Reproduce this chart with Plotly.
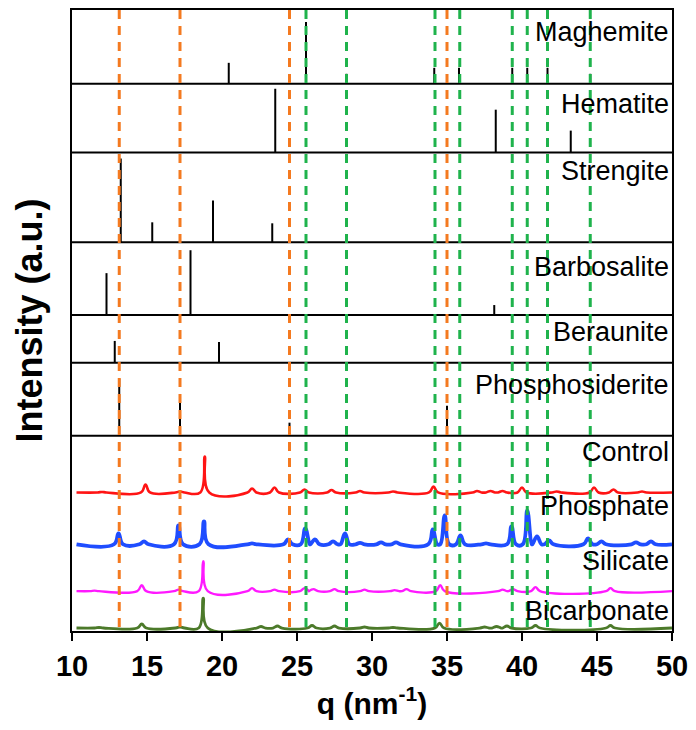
import plotly.graph_objects as go

# ---------------- data ----------------
# reference lines (q in nm^-1)
orange_q = [13.15, 17.2, 24.5, 35.0]
green_q = [25.6, 28.3, 34.2, 35.85, 39.35, 40.35, 41.7, 44.55]

# reference stick patterns: positions and relative heights
maghemite_q = [20.45, 25.6, 28.3, 34.15, 35.8, 39.35, 40.35, 41.7, 44.55]
maghemite_h = [21, 62, 10, 16, 16, 16, 16, 16, 10]
hematite_q = [23.55, 38.25, 43.25]
hematite_h = [64, 43, 22]
strengite_q = [13.25, 15.35, 19.4, 23.35]
strengite_h = [84, 20, 42, 19]
barbosalite_q = [12.3, 17.9, 38.15]
barbosalite_h = [42, 65, 10]
beraunite_q = [12.85, 19.8]
beraunite_h = [22, 21]
phosphosiderite_q = [13.15, 17.2, 24.5, 35.0]
phosphosiderite_h = [57, 38, 13, 30]

# measured patterns: peak positions and heights
control_q = [12.0, 14.9, 17.2, 18.85, 22.0, 23.5, 25.5, 27.3, 29.2, 31.4, 34.1,
             37.0, 37.9, 38.7, 40.0, 42.3, 44.8, 46.1, 48.0]
control_h = [0.5, 8, 1, 36, 4, 5, 3, 2.5, 1.5, 1, 6, 1.5, 1.5, 1.5, 5, 1, 5, 3, 1]
phosphate_q = [13.1, 14.8, 17.1, 18.8, 22.0, 24.4, 25.55, 26.2, 27.4, 28.2, 29.2,
               30.6, 31.6, 34.05, 34.85, 35.9, 37.6, 39.3, 40.35, 41.0, 41.8,
               44.4, 45.3, 47.6, 48.6]
phosphate_h = [11, 3, 19, 23, 1, 5, 16, 5, 3, 11, 1.5, 2, 2, 15, 29, 9, 1, 18, 34,
               8, 4, 6, 3, 2, 3]
silicate_q = [11.5, 14.65, 17.1, 18.75, 22.0, 23.5, 25.5, 26.1, 27.5, 29.5, 31.5,
              32.3, 34.55, 38.7, 39.4, 40.9, 45.9]
silicate_h = [0.5, 6, 1.5, 30, 3, 1.5, 3, 2, 2, 1.5, 1, 2, 6, 1.5, 2, 4, 3]
bicarb_q = [11.8, 14.65, 17.2, 18.75, 22.6, 23.7, 26.0, 27.5, 29.5, 31.4, 34.5,
            37.5, 38.3, 39.0, 40.9, 45.9]
bicarb_h = [0.5, 4, 1, 30, 1.5, 2, 2.5, 2, 1, 0.5, 5, 1, 1.5, 2, 2.5, 2.5]

x_ticks = [10, 15, 20, 25, 30, 35, 40, 45, 50]

# ---------------- layout (positions / styles) ----------------
refs = [
    ("Maghemite", maghemite_q, maghemite_h, 549, 601),
    ("Hematite", hematite_q, hematite_h, 480, 529),
    ("Strengite", strengite_q, strengite_h, 390, 461),
    ("Barbosalite", barbosalite_q, barbosalite_h, 317, 365),
    ("Beraunite", beraunite_q, beraunite_h, 269, 300),
    ("Phosphosiderite", phosphosiderite_q, phosphosiderite_h, 196, 247),
]
samples = [
    ("Control", control_q, control_h, 139, 180, "#ff1414", 2.6),
    ("Phosphate", phosphate_q, phosphate_h, 87, 125, "#1f4dff", 3.8),
    ("Silicate", silicate_q, silicate_h, 40, 70, "#ff19ff", 2.4),
    ("Bicarbonate", bicarb_q, bicarb_h, 3, 20, "#4c7a2a", 2.8),
]
PEAK_W = 0.3
Y_TOP = 623

fig = go.Figure()
shapes = []
annotations = []

label_font = dict(family="Liberation Sans, Arial, sans-serif", size=27, color="black")

for name, qs, hs, base, ly in refs:
    xs, ys = [], []
    for q, h in zip(qs, hs):
        xs += [q, q, None]
        ys += [base, base + h, None]
    fig.add_trace(go.Scatter(x=xs, y=ys, mode="lines",
                             line=dict(color="black", width=2),
                             showlegend=False, hoverinfo="skip"))
    shapes.append(dict(type="line", xref="x", yref="y", x0=10, x1=50, y0=base, y1=base,
                       line=dict(color="black", width=2), layer="below"))
    annotations.append(dict(text=name, x=1, xref="paper", xanchor="right", xshift=-1,
                            y=ly, yref="y", yanchor="middle", showarrow=False,
                            font=label_font))

for name, qs, hs, base, ly, color, lw in samples:
    xs, ys = [10.3], [base]
    for q, h in sorted(zip(qs, hs)):
        xs += [q - PEAK_W, q, q + PEAK_W]
        ys += [base, base + h, base]
    xs.append(50)
    ys.append(base)
    fig.add_trace(go.Scatter(x=xs, y=ys, mode="lines",
                             line=dict(color=color, width=lw, shape="spline", smoothing=1.2),
                             showlegend=False, hoverinfo="skip"))
    annotations.append(dict(text=name, x=1, xref="paper", xanchor="right", xshift=-1,
                            y=ly, yref="y", yanchor="middle", showarrow=False,
                            font=label_font))

for q in orange_q:
    shapes.append(dict(type="line", xref="x", yref="paper", x0=q, x1=q, y0=1, y1=0,
                       line=dict(color="#f47a20", width=3, dash="9px,7px"), layer="above"))
for q in green_q:
    shapes.append(dict(type="line", xref="x", yref="paper", x0=q, x1=q, y0=1, y1=0,
                       line=dict(color="#1fb34c", width=3, dash="9px,7px"), layer="above"))

fig.update_layout(
    width=696, height=730,
    margin=dict(l=72, r=23, t=8, b=99),
    paper_bgcolor="white", plot_bgcolor="white",
    shapes=shapes, annotations=annotations,
    xaxis=dict(range=[10, 50], tickvals=x_ticks, ticktext=[str(t) for t in x_ticks],
               ticks="outside", ticklen=8, tickwidth=2, tickcolor="black",
               showline=True, mirror=True, linewidth=2, linecolor="black",
               showgrid=False, zeroline=False,
               tickfont=dict(family="Liberation Sans Narrow, Arial Narrow, Liberation Sans, sans-serif",
                             size=29, color="black", weight="bold"),
               title=dict(text="q (nm<sup>-1</sup>)", standoff=12,
                          font=dict(family="Liberation Sans, Arial, sans-serif", size=30,
                                    color="black", weight="bold"))),
    yaxis=dict(range=[0, Y_TOP], showticklabels=False, ticks="",
               showline=True, mirror=True, linewidth=2, linecolor="black",
               showgrid=False, zeroline=False,
               title=dict(text="Intensity (a.u.)", standoff=16,
                          font=dict(family="Liberation Sans, Arial, sans-serif", size=36,
                                    color="black", weight="bold"))),
)

fig.write_html("out.html")
